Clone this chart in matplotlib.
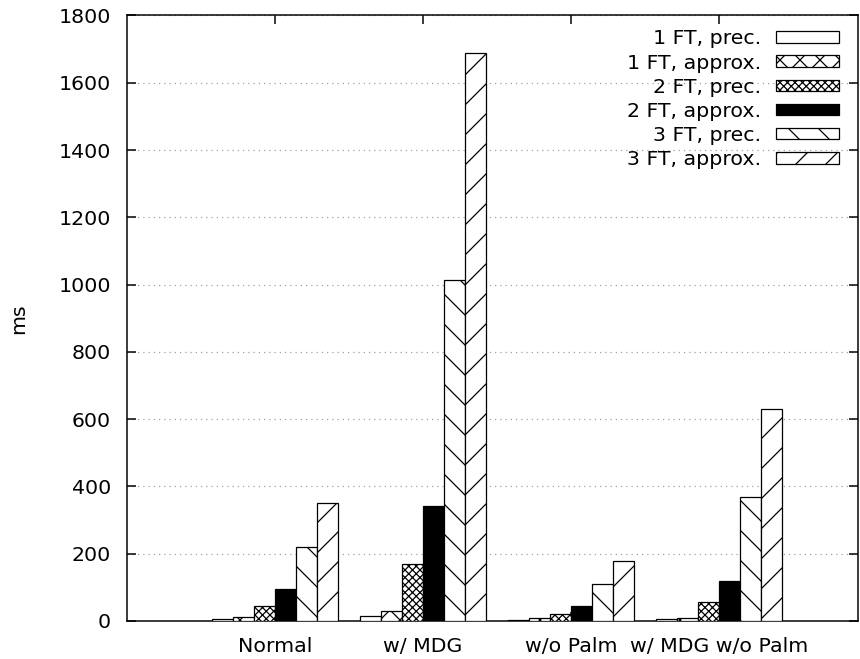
import numpy as np
import matplotlib
matplotlib.use("Agg")
import matplotlib.pyplot as plt
from matplotlib.ticker import MultipleLocator

# data (ms)
categories = ["Normal", "w/ MDG", "w/o Palm", "w/ MDG w/o Palm"]
series_names = ["1 FT, prec.", "1 FT, approx.", "2 FT, prec.",
                "2 FT, approx.", "3 FT, prec.", "3 FT, approx."]
ft1_prec = [5, 15, 4, 6]
ft1_approx = [11, 31, 8, 10]
ft2_prec = [46, 168, 22, 57]
ft2_approx = [94, 341, 44, 118]
ft3_prec = [220, 1014, 111, 369]
ft3_approx = [352, 1689, 179, 631]
series_values = [ft1_prec, ft1_approx, ft2_prec, ft2_approx, ft3_prec, ft3_approx]

# gnuplot-like fill patterns
fills = ["white", "white", "white", "black", "white", "white"]
hatches = [None, "xxx", "xxxxxxxx", None, "\\\\", "//"]

DPI = 180
plt.rcParams['font.family'] = ['DejaVu Sans']
plt.rcParams['font.size'] = 8.2
plt.rcParams['hatch.linewidth'] = 0.5
plt.rcParams['axes.linewidth'] = 0.6

fig = plt.figure(figsize=(860 / DPI, 659 / DPI), dpi=DPI)
ax = fig.add_axes([0.1477, 0.0577, 0.85, 0.9188])

x = np.arange(len(categories))
width = 0.141
n = len(series_values)
for i, (name, vals) in enumerate(zip(series_names, series_values)):
    offs = (i - (n - 1) / 2) * width
    ax.bar(x + offs, vals, width, label=name, color=fills[i],
           edgecolor="black", linewidth=0.5, hatch=hatches[i], zorder=3)

ax.set_xlim(-1.0, 3.94)
ax.set_ylim(0, 1800)
ax.yaxis.set_major_locator(MultipleLocator(200))
ax.set_xticks(x)
ax.set_xticklabels(categories)
ax.tick_params(direction="in", length=3.6, width=0.6, top=True, right=True,
               labelsize=8.2)
ax.tick_params(axis="y", pad=6.4)
ax.tick_params(axis="x", pad=6.6)
ax.grid(axis="y", color="#a0a0a0", linewidth=0.5, linestyle=(0, (1, 3.2)),
        zorder=0)
ax.set_ylabel("ms")
ax.yaxis.set_label_coords(-0.1354, 0.5)

ax.legend(loc="upper right", bbox_to_anchor=(0.974, 0.977), frameon=False,
          markerfirst=False, handlelength=3.05, handleheight=0.5,
          handletextpad=0.73, labelspacing=0.25, borderpad=0,
          borderaxespad=0, fontsize=8.2)

fig.savefig("out.png", dpi=DPI)
